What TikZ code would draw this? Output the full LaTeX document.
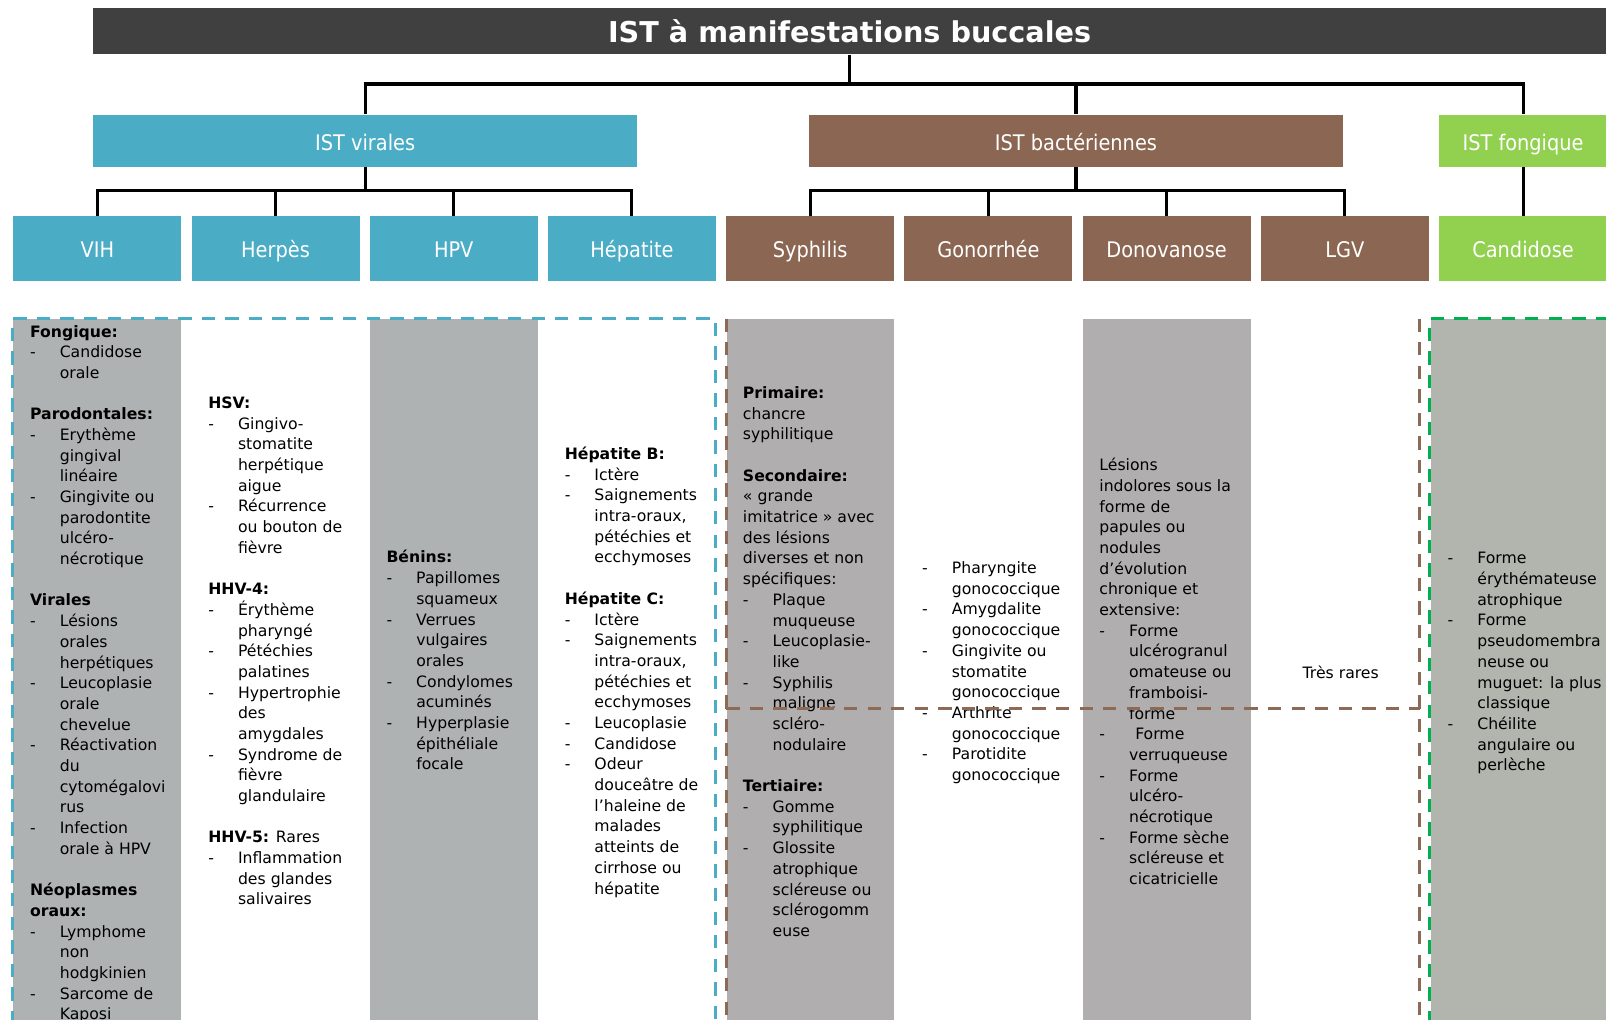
\documentclass[tikz,border=0pt]{standalone}
\usepackage{fontspec}
\setmainfont{DejaVu Sans}
\newfontfamily\headfont[FakeStretch=0.9]{DejaVu Sans}

\definecolor{viral}{HTML}{4BACC6}
\definecolor{bact}{HTML}{8B6652}
\definecolor{fong}{HTML}{92D050}
\definecolor{titlegray}{HTML}{404040}
\definecolor{colgrayA}{HTML}{AFB2B2}
\definecolor{colgrayB}{HTML}{B0AEAE}
\definecolor{colgrayC}{HTML}{B2B4AE}
\definecolor{greendash}{HTML}{00B050}
\definecolor{browndash}{HTML}{8C6A55}

\newcommand\tiret{\makebox[14.5pt][l]{-}}
\newcommand\suite{\hspace*{14.5pt}}

\tikzset{
  catbox/.style={rectangle, inner sep=0pt, text=white, text height=9.5pt, text depth=0.4pt,
                 font=\headfont\fontsize{10.5pt}{12pt}\selectfont},
  leaf/.style={catbox, minimum width=82pt, minimum height=31.5pt},
  conn/.style={line width=1.5pt},
  coltext/.style={anchor=north west, inner sep=0pt, align=left, font=\fontsize{7.65pt}{10.1pt}\selectfont},
  dashline/.style={line width=1.5pt, dash pattern=on 6.5pt off 5pt}
}

\begin{document}
\begin{tikzpicture}[x=0.5pt, y=-0.5pt]

\useasboundingbox (0,0) rectangle (1568,995);

% Title bar
\node[catbox, fill=titlegray, minimum width=738.5pt, minimum height=22.5pt, text height=11pt, text depth=0.2pt,
      font=\rmfamily\bfseries\fontsize{14pt}{16pt}\selectfont] (title) at (829.5,30.5) {IST à manifestations buccales};

% Families of infections
\node[catbox, fill=viral, minimum width=265.5pt, minimum height=25.5pt] (virales) at (356.5,137.5) {IST virales};
\node[catbox, fill=bact, minimum width=260.5pt, minimum height=25.5pt] (bacteries) at (1050.5,137.5) {IST bactériennes};
\node[catbox, fill=fong, minimum width=82pt, minimum height=25.5pt] (fongique) at (1487,137.5) {IST fongique};

% Infections
\node[leaf, fill=viral] (VIH)    at (95,242.5)   {VIH};
\node[leaf, fill=viral] (Herpes) at (269,242.5)  {Herpès};
\node[leaf, fill=viral] (HPV)    at (443,242.5)  {HPV};
\node[leaf, fill=viral] (Hep)    at (617,242.5)  {Hépatite};
\node[leaf, fill=bact]  (Syph)   at (791,242.5)  {Syphilis};
\node[leaf, fill=bact]  (Gono)   at (965,242.5)  {Gonorrhée};
\node[leaf, fill=bact]  (Dono)   at (1139,242.5) {Donovanose};
\node[leaf, fill=bact]  (LGV)    at (1313,242.5) {LGV};
\node[leaf, fill=fong]  (Cand)   at (1487,242.5) {Candidose};

% Tree connectors
\coordinate (jtop)  at (829.5,82);
\coordinate (jvir)  at (356.5,186);
\coordinate (jbact) at (1050.5,186);
\draw[conn] (title.south) -- (jtop);
\draw[conn] (virales.north) |- (jtop) -| (fongique.north);
\draw[conn] (bacteries.north) -- (bacteries.north |- jtop);

\draw[conn] (virales.south) -- (jvir);
\draw[conn] (VIH.north) |- (jvir) -| (Hep.north);
\draw[conn] (Herpes.north) -- (Herpes.north |- jvir);
\draw[conn] (HPV.north) -- (HPV.north |- jvir);

\draw[conn] (bacteries.south) -- (jbact);
\draw[conn] (Syph.north) |- (jbact) -| (LGV.north);
\draw[conn] (Gono.north) -- (Gono.north |- jbact);
\draw[conn] (Dono.north) -- (Dono.north |- jbact);

\draw[conn] (fongique.south) -- (Cand.north);

% Gray columns
\fill[colgrayA] (13,311) rectangle (177,1000);
\fill[colgrayA] (361,311) rectangle (525,1000);
\fill[colgrayB] (710,311) rectangle (873,1000);
\fill[colgrayB] (1057,311) rectangle (1221,1000);
\fill[colgrayC] (1397,311) rectangle (1570,1000);

% Manifestations, one column per infection
\node[coltext] (VIHtext) at (29,317) {\textbf{Fongique:}\\
\tiret Candidose\\
\suite orale\\[10.1pt]
\textbf{Parodontales:}\\
\tiret Erythème\\
\suite gingival\\
\suite linéaire\\
\tiret Gingivite ou\\
\suite parodontite\\
\suite ulcéro-\\
\suite nécrotique\\[10.1pt]
\textbf{Virales}\\
\tiret Lésions\\
\suite orales\\
\suite herpétiques\\
\tiret Leucoplasie\\
\suite orale\\
\suite chevelue\\
\tiret Réactivation\\
\suite du\\
\suite cytomégalovi\\
\suite rus\\
\tiret Infection\\
\suite orale à HPV\\[10.1pt]
\textbf{Néoplasmes}\\
\textbf{oraux:}\\
\tiret Lymphome\\
\suite non\\
\suite hodgkinien\\
\tiret Sarcome de\\
\suite Kaposi};

\node[coltext] (Herpestext) at (203,387) {\textbf{HSV:}\\
\tiret Gingivo-\\
\suite stomatite\\
\suite herpétique\\
\suite aigue\\
\tiret Récurrence\\
\suite ou bouton de\\
\suite fièvre\\[10.1pt]
\textbf{HHV-4:}\\
\tiret Érythème\\
\suite pharyngé\\
\tiret Pétéchies\\
\suite palatines\\
\tiret Hypertrophie\\
\suite des\\
\suite amygdales\\
\tiret Syndrome de\\
\suite fièvre\\
\suite glandulaire\\[10.1pt]
\textbf{HHV-5:} Rares\\
\tiret Inflammation\\
\suite des glandes\\
\suite salivaires};

\node[coltext] (HPVtext) at (377,537) {\textbf{Bénins:}\\
\tiret Papillomes\\
\suite squameux\\
\tiret Verrues\\
\suite vulgaires\\
\suite orales\\
\tiret Condylomes\\
\suite acuminés\\
\tiret Hyperplasie\\
\suite épithéliale\\
\suite focale};

\node[coltext] (Heptext) at (551,436) {\textbf{Hépatite B:}\\
\tiret Ictère\\
\tiret Saignements\\
\suite intra-oraux,\\
\suite pétéchies et\\
\suite ecchymoses\\[10.1pt]
\textbf{Hépatite C:}\\
\tiret Ictère\\
\tiret Saignements\\
\suite intra-oraux,\\
\suite pétéchies et\\
\suite ecchymoses\\
\tiret Leucoplasie\\
\tiret Candidose\\
\tiret Odeur\\
\suite douceâtre de\\
\suite l’haleine de\\
\suite malades\\
\suite atteints de\\
\suite cirrhose ou\\
\suite hépatite};

\node[coltext] (Syphtext) at (725,377) {\textbf{Primaire:}\\
chancre\\
syphilitique\\[10.1pt]
\textbf{Secondaire:}\\
« grande\\
imitatrice » avec\\
des lésions\\
diverses et non\\
spécifiques:\\
\tiret Plaque\\
\suite muqueuse\\
\tiret Leucoplasie-\\
\suite like\\
\tiret Syphilis\\
\suite maligne\\
\suite scléro-\\
\suite nodulaire\\[10.1pt]
\textbf{Tertiaire:}\\
\tiret Gomme\\
\suite syphilitique\\
\tiret Glossite\\
\suite atrophique\\
\suite scléreuse ou\\
\suite sclérogomm\\
\suite euse};

\node[coltext] (Gonotext) at (900,548) {\tiret Pharyngite\\
\suite gonococcique\\
\tiret Amygdalite\\
\suite gonococcique\\
\tiret Gingivite ou\\
\suite stomatite\\
\suite gonococcique\\
\tiret Arthrite\\
\suite gonococcique\\
\tiret Parotidite\\
\suite gonococcique};

\node[coltext] (Donotext) at (1073,447) {Lésions\\
indolores sous la\\
forme de\\
papules ou\\
nodules\\
d’évolution\\
chronique et\\
extensive:\\
\tiret Forme\\
\suite ulcérogranul\\
\suite omateuse ou\\
\suite framboisi-\\
\suite forme\\
\tiret\hspace{3pt}Forme\\
\suite verruqueuse\\
\tiret Forme\\
\suite ulcéro-\\
\suite nécrotique\\
\tiret Forme sèche\\
\suite scléreuse et\\
\suite cicatricielle};

\node[coltext, anchor=center] (LGVtext) at (1309,656) {Très rares};

\node[coltext] (Candtext) at (1413,539) {\tiret Forme\\
\suite érythémateuse\\
\suite atrophique\\
\tiret Forme\\
\suite pseudomembra\\
\suite neuse ou\\
\suite muguet: la plus\\
\suite classique\\
\tiret Chéilite\\
\suite angulaire ou\\
\suite perlèche};

% Dashed frames of the three families
\draw[dashline, viral] (12,1000) -- (12,311) -- (699,311) -- (699,1000);
\draw[dashline, browndash] (709,311) -- (709,1000);
\draw[dashline, browndash] (1386,311) -- (1386,1000);
\draw[dashline, browndash] (709,692) -- (1386,692);
\draw[dashline, greendash] (1396,1000) -- (1396,311) -- (1570,311);

\end{tikzpicture}
\end{document}
